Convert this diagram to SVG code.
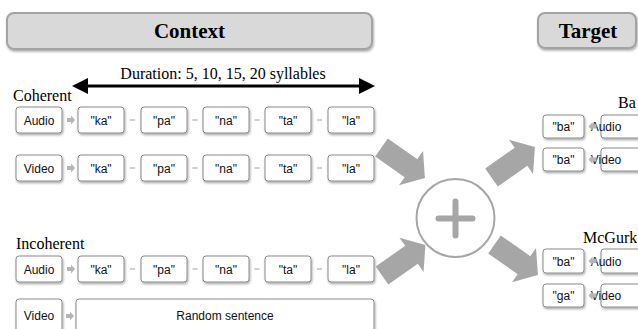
<svg xmlns="http://www.w3.org/2000/svg" width="638" height="329" viewBox="0 0 638 329">
<style>
.hdr{fill:#d9d9d9;stroke:#a3a3a3;stroke-width:2}
.hdrt{font-family:"Liberation Serif",serif;font-weight:bold;font-size:21px;fill:#000;text-anchor:middle}
.lbl{font-family:"Liberation Serif",serif;font-size:16px;fill:#000}
.box{fill:#fff;stroke:#8a8a8a;stroke-width:1}
.bt{font-family:"Liberation Sans",sans-serif;font-size:12px;fill:#111;text-anchor:middle}
.big{fill:#a6a6a6}
.sm{fill:#b5b5b5}
.dash{stroke:#b5b5b5;stroke-width:1.3}
</style>
<defs>
<filter id="sh" x="-20%" y="-20%" width="150%" height="160%">
<feDropShadow dx="0.8" dy="1.6" stdDeviation="1" flood-color="#000" flood-opacity="0.35"/>
</filter>
<path id="bigarrow" d="M0,-11 L36,-11 L36,-21 L53,0 L36,21 L36,11 L0,11 Z"/>
<path id="smr" d="M0,-2 L4,-2 L4,-4.5 L8,0 L4,4.5 L4,2 L0,2 Z"/>
<path id="sml" d="M8,-2 L4,-2 L4,-4.5 L0,0 L4,4.5 L4,2 L8,2 Z"/>
</defs>
<rect width="638" height="329" fill="#fff"/>

<g id="context-header">
<rect class="hdr" x="7" y="13" width="365" height="36" rx="7" filter="url(#sh)"/>
<text class="hdrt" x="189.5" y="38">Context</text>
</g>
<g id="target-header">
<rect class="hdr" x="538" y="13" width="98" height="35" rx="7" filter="url(#sh)"/>
<text class="hdrt" x="588" y="38">Target</text>
</g>

<g id="duration">
<line x1="86" y1="86" x2="361" y2="86" stroke="#000" stroke-width="3"/>
<path d="M72,86 L88,78 L88,94 Z" fill="#000"/>
<path d="M375,86 L359,78 L359,94 Z" fill="#000"/>
<text class="lbl" x="223" y="79" text-anchor="middle">Duration: 5, 10, 15, 20 syllables</text>
</g>

<text id="label-coherent" class="lbl" x="13" y="101">Coherent</text>
<text id="label-incoherent" class="lbl" x="16" y="249">Incoherent</text>
<text id="label-ba" class="lbl" x="618" y="108">Ba</text>
<text id="label-mcgurk" class="lbl" x="583" y="243">McGurk</text>

<g id="coh-audio" filter="url(#sh)">
<rect class="box" x="16" y="107" width="46" height="26" rx="3"/>
<rect class="box" x="78" y="107" width="46" height="26" rx="3"/>
<rect class="box" x="141" y="107" width="46" height="26" rx="3"/>
<rect class="box" x="203" y="107" width="46" height="26" rx="3"/>
<rect class="box" x="265" y="107" width="46" height="26" rx="3"/>
<rect class="box" x="328" y="107" width="46" height="26" rx="3"/>
</g>
<g id="coh-audio-text">
<text class="bt" x="39" y="124.5">Audio</text>
<text class="bt" x="101" y="124.5">"ka"</text>
<text class="bt" x="164" y="124.5">"pa"</text>
<text class="bt" x="226" y="124.5">"na"</text>
<text class="bt" x="288" y="124.5">"ta"</text>
<text class="bt" x="351" y="124.5">"la"</text>
</g>

<g id="coh-video" filter="url(#sh)">
<rect class="box" x="16" y="155" width="46" height="26" rx="3"/>
<rect class="box" x="78" y="155" width="46" height="26" rx="3"/>
<rect class="box" x="141" y="155" width="46" height="26" rx="3"/>
<rect class="box" x="203" y="155" width="46" height="26" rx="3"/>
<rect class="box" x="265" y="155" width="46" height="26" rx="3"/>
<rect class="box" x="328" y="155" width="46" height="26" rx="3"/>
</g>
<g id="coh-video-text">
<text class="bt" x="39" y="172.5">Video</text>
<text class="bt" x="101" y="172.5">"ka"</text>
<text class="bt" x="164" y="172.5">"pa"</text>
<text class="bt" x="226" y="172.5">"na"</text>
<text class="bt" x="288" y="172.5">"ta"</text>
<text class="bt" x="351" y="172.5">"la"</text>
</g>

<g id="inc-audio" filter="url(#sh)">
<rect class="box" x="16" y="256" width="46" height="26" rx="3"/>
<rect class="box" x="78" y="256" width="46" height="26" rx="3"/>
<rect class="box" x="141" y="256" width="46" height="26" rx="3"/>
<rect class="box" x="203" y="256" width="46" height="26" rx="3"/>
<rect class="box" x="265" y="256" width="46" height="26" rx="3"/>
<rect class="box" x="328" y="256" width="46" height="26" rx="3"/>
</g>
<g id="inc-audio-text">
<text class="bt" x="39" y="273.5">Audio</text>
<text class="bt" x="101" y="273.5">"ka"</text>
<text class="bt" x="164" y="273.5">"pa"</text>
<text class="bt" x="226" y="273.5">"na"</text>
<text class="bt" x="288" y="273.5">"ta"</text>
<text class="bt" x="351" y="273.5">"la"</text>
</g>

<g id="inc-video" filter="url(#sh)">
<rect class="box" x="16" y="299" width="46" height="34" rx="3"/>
<rect class="box" x="76" y="299" width="298" height="34" rx="3"/>
</g>
<g id="inc-video-text">
<text class="bt" x="39" y="319.5" font-size="10.5" fill="#333">Video</text>
<text class="bt" x="225" y="319.5" font-size="10.5" fill="#333">Random sentence</text>
</g>

<g id="target-ba" filter="url(#sh)">
<rect class="box" x="543" y="115" width="41" height="23" rx="3"/>
<rect class="box" x="601" y="115" width="44" height="23" rx="3"/>
<rect class="box" x="543" y="148" width="41" height="23" rx="3"/>
<rect class="box" x="601" y="148" width="44" height="23" rx="3"/>
</g>
<g id="target-ba-text">
<text class="bt" x="563.5" y="131">"ba"</text>
<text class="bt" x="606" y="131" text-anchor="start">Audio</text>
<text class="bt" x="563.5" y="164">"ba"</text>
<text class="bt" x="606" y="164" text-anchor="start">Video</text>
</g>

<g id="target-mcgurk" filter="url(#sh)">
<rect class="box" x="543" y="249" width="41" height="24" rx="3"/>
<rect class="box" x="601" y="249" width="44" height="24" rx="3"/>
<rect class="box" x="543" y="284" width="41" height="23" rx="3"/>
<rect class="box" x="601" y="284" width="44" height="23" rx="3"/>
</g>
<g id="target-mcgurk-text">
<text class="bt" x="563.5" y="265.5">"ba"</text>
<text class="bt" x="606" y="265.5" text-anchor="start">Audio</text>
<text class="bt" x="563.5" y="300">"ga"</text>
<text class="bt" x="606" y="300" text-anchor="start">Video</text>
</g>

<g id="combine">
<circle cx="455.5" cy="218" r="39" fill="#fff" stroke="#a6a6a6" stroke-width="2"/>
<path d="M438.5,218.5 H472.5 M455.5,201.5 V235.5" stroke="#a6a6a6" stroke-width="6" stroke-linecap="round" fill="none"/>
</g>

<g id="connectors">
<use href="#bigarrow" class="big" transform="translate(381.5,147.5) rotate(35)"/>
<use href="#bigarrow" class="big" transform="translate(382,275.5) rotate(-35)"/>
<use href="#bigarrow" class="big" transform="translate(491.5,177.5) rotate(-35)"/>
<use href="#bigarrow" class="big" transform="translate(494.5,244.5) rotate(35)"/>
<use href="#smr" class="sm" transform="translate(67,120)"/>
<use href="#smr" class="sm" transform="translate(67,168)"/>
<use href="#smr" class="sm" transform="translate(67,269)"/>
<use href="#smr" class="sm" transform="translate(66,316)"/>
<use href="#sml" class="sm" transform="translate(588.5,126.5)"/>
<use href="#sml" class="sm" transform="translate(588.5,159.5)"/>
<use href="#sml" class="sm" transform="translate(588.5,261)"/>
<use href="#sml" class="sm" transform="translate(588.5,295.5)"/>
<g class="dash">
<line x1="130" y1="120" x2="135" y2="120"/><line x1="192.5" y1="120" x2="197.5" y2="120"/><line x1="254.5" y1="120" x2="259.5" y2="120"/><line x1="317" y1="120" x2="322" y2="120"/>
<line x1="130" y1="168" x2="135" y2="168"/><line x1="192.5" y1="168" x2="197.5" y2="168"/><line x1="254.5" y1="168" x2="259.5" y2="168"/><line x1="317" y1="168" x2="322" y2="168"/>
<line x1="130" y1="269" x2="135" y2="269"/><line x1="192.5" y1="269" x2="197.5" y2="269"/><line x1="254.5" y1="269" x2="259.5" y2="269"/><line x1="317" y1="269" x2="322" y2="269"/>
</g>
</g>
</svg>
